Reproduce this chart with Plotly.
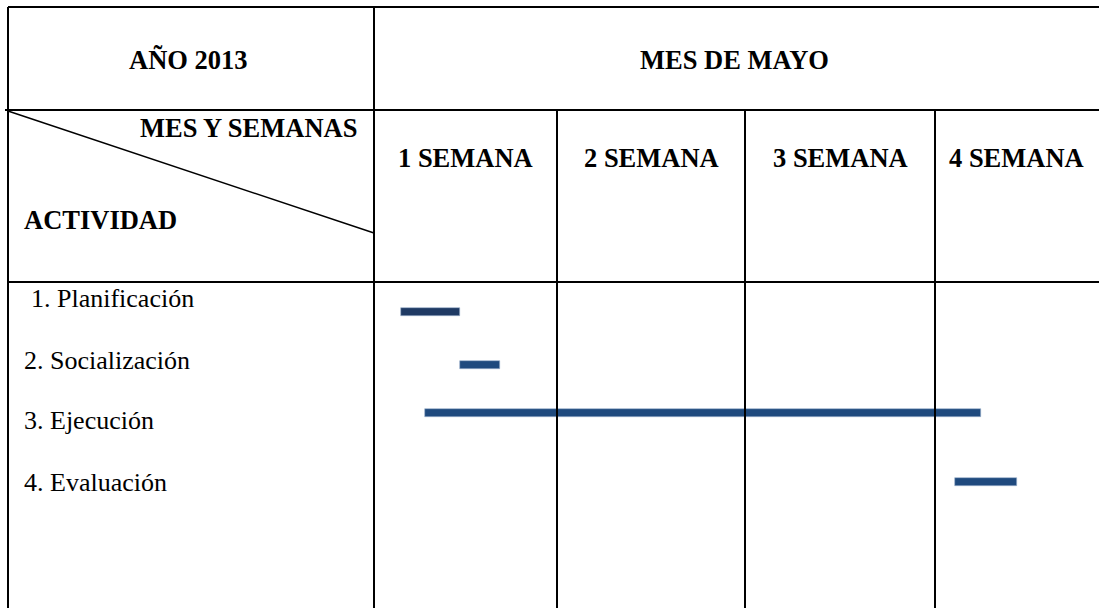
import numpy as np
import plotly.graph_objects as go

# ---- data ----
year_label = "AÑO 2013"
month_label = "MES DE MAYO"
corner_top = "MES Y SEMANAS"
corner_bottom = "ACTIVIDAD"
weeks = ["1 SEMANA", "2 SEMANA", "3 SEMANA", "4 SEMANA"]
activities = ["1. Planificación", "2. Socialización", "3. Ejecución", "4. Evaluación"]
# start / end of each activity, in weeks (0 = start of week 1)
task_start = [0.15, 0.47, 0.28, 3.12]
task_end = [0.47, 0.69, 3.28, 3.50]
task_colors = ["#1F3A64", "#1F4A7E", "#1F4A7E", "#1F4A7E"]

# ---- layout geometry (pixel-like canvas) ----
W, H = 1099, 608
x_left, x_div = 8, 374
week_edges = [374, 557, 745, 935, 1098]
y_top, y_mid, y_hdr = 7, 110, 282
label_y = [298, 360, 420, 482]
bar_y = [311.5, 365, 413, 481.5]

def week_to_x(w):
    return np.interp(w, np.arange(len(week_edges)), week_edges)

fig = go.Figure()

xs = week_to_x(np.array(task_start))
xe = week_to_x(np.array(task_end))
fig.add_trace(go.Bar(
    orientation="h", y=bar_y, base=xs, x=xe - xs, width=8,
    marker=dict(color=task_colors, line=dict(color="#9DB3CC", width=0.6)),
    showlegend=False, hoverinfo="skip",
))

line = dict(color="black", width=2)
shapes = [
    dict(type="line", x0=x_left, x1=W, y0=y_top, y1=y_top, line=line),
    dict(type="line", x0=5, x1=W, y0=y_mid, y1=y_mid, line=line),
    dict(type="line", x0=x_left, x1=W, y0=y_hdr, y1=y_hdr, line=line),
    dict(type="line", x0=x_left, x1=x_left, y0=y_top, y1=H, line=line),
    dict(type="line", x0=x_div, x1=x_div, y0=y_top, y1=H, line=line),
    dict(type="line", x0=x_left, x1=x_div, y0=y_mid + 1, y1=233, line=dict(color="black", width=1.4)),
]
for xe_ in week_edges[1:-1]:
    shapes.append(dict(type="line", x0=xe_, x1=xe_, y0=y_mid, y1=H, line=line))
for s in shapes:
    s.update(xref="x", yref="y", layer="above")

FONT = "'Liberation Serif', 'Times New Roman', Times, serif"
bold = dict(family=FONT, size=26.5, color="black", weight="bold")
reg = dict(family=FONT, size=26, color="black")

ann = [
    dict(x=188, y=60, text=year_label, xanchor="center", font=bold),
    dict(x=734, y=60, text=month_label, xanchor="center", font=bold),
    dict(x=359, y=128, text=corner_top, xanchor="right", font=bold),
    dict(x=22, y=220, text=corner_bottom, xanchor="left", font=bold),
]
for i, wk in enumerate(weeks):
    cx = (week_edges[i] + week_edges[i + 1]) / 2
    ann.append(dict(x=cx, y=158, text=wk, xanchor="center", font=bold))
for i, a in enumerate(activities):
    ann.append(dict(x=22 if i else 29, y=label_y[i], text=a, xanchor="left", font=reg))
for a in ann:
    a.update(xref="x", yref="y", yanchor="middle", showarrow=False)

fig.update_layout(
    width=W, height=H,
    font=dict(family=FONT),
    margin=dict(l=0, r=0, t=0, b=0),
    paper_bgcolor="white", plot_bgcolor="white",
    xaxis=dict(range=[0, W], visible=False, fixedrange=True),
    yaxis=dict(range=[H, 0], visible=False, fixedrange=True),
    shapes=shapes, annotations=ann, bargap=0,
)
fig.write_html(
    "out.html",
    config={"displayModeBar": False},
    post_script="document.body.style.margin='0';document.body.style.overflow='hidden';",
)
